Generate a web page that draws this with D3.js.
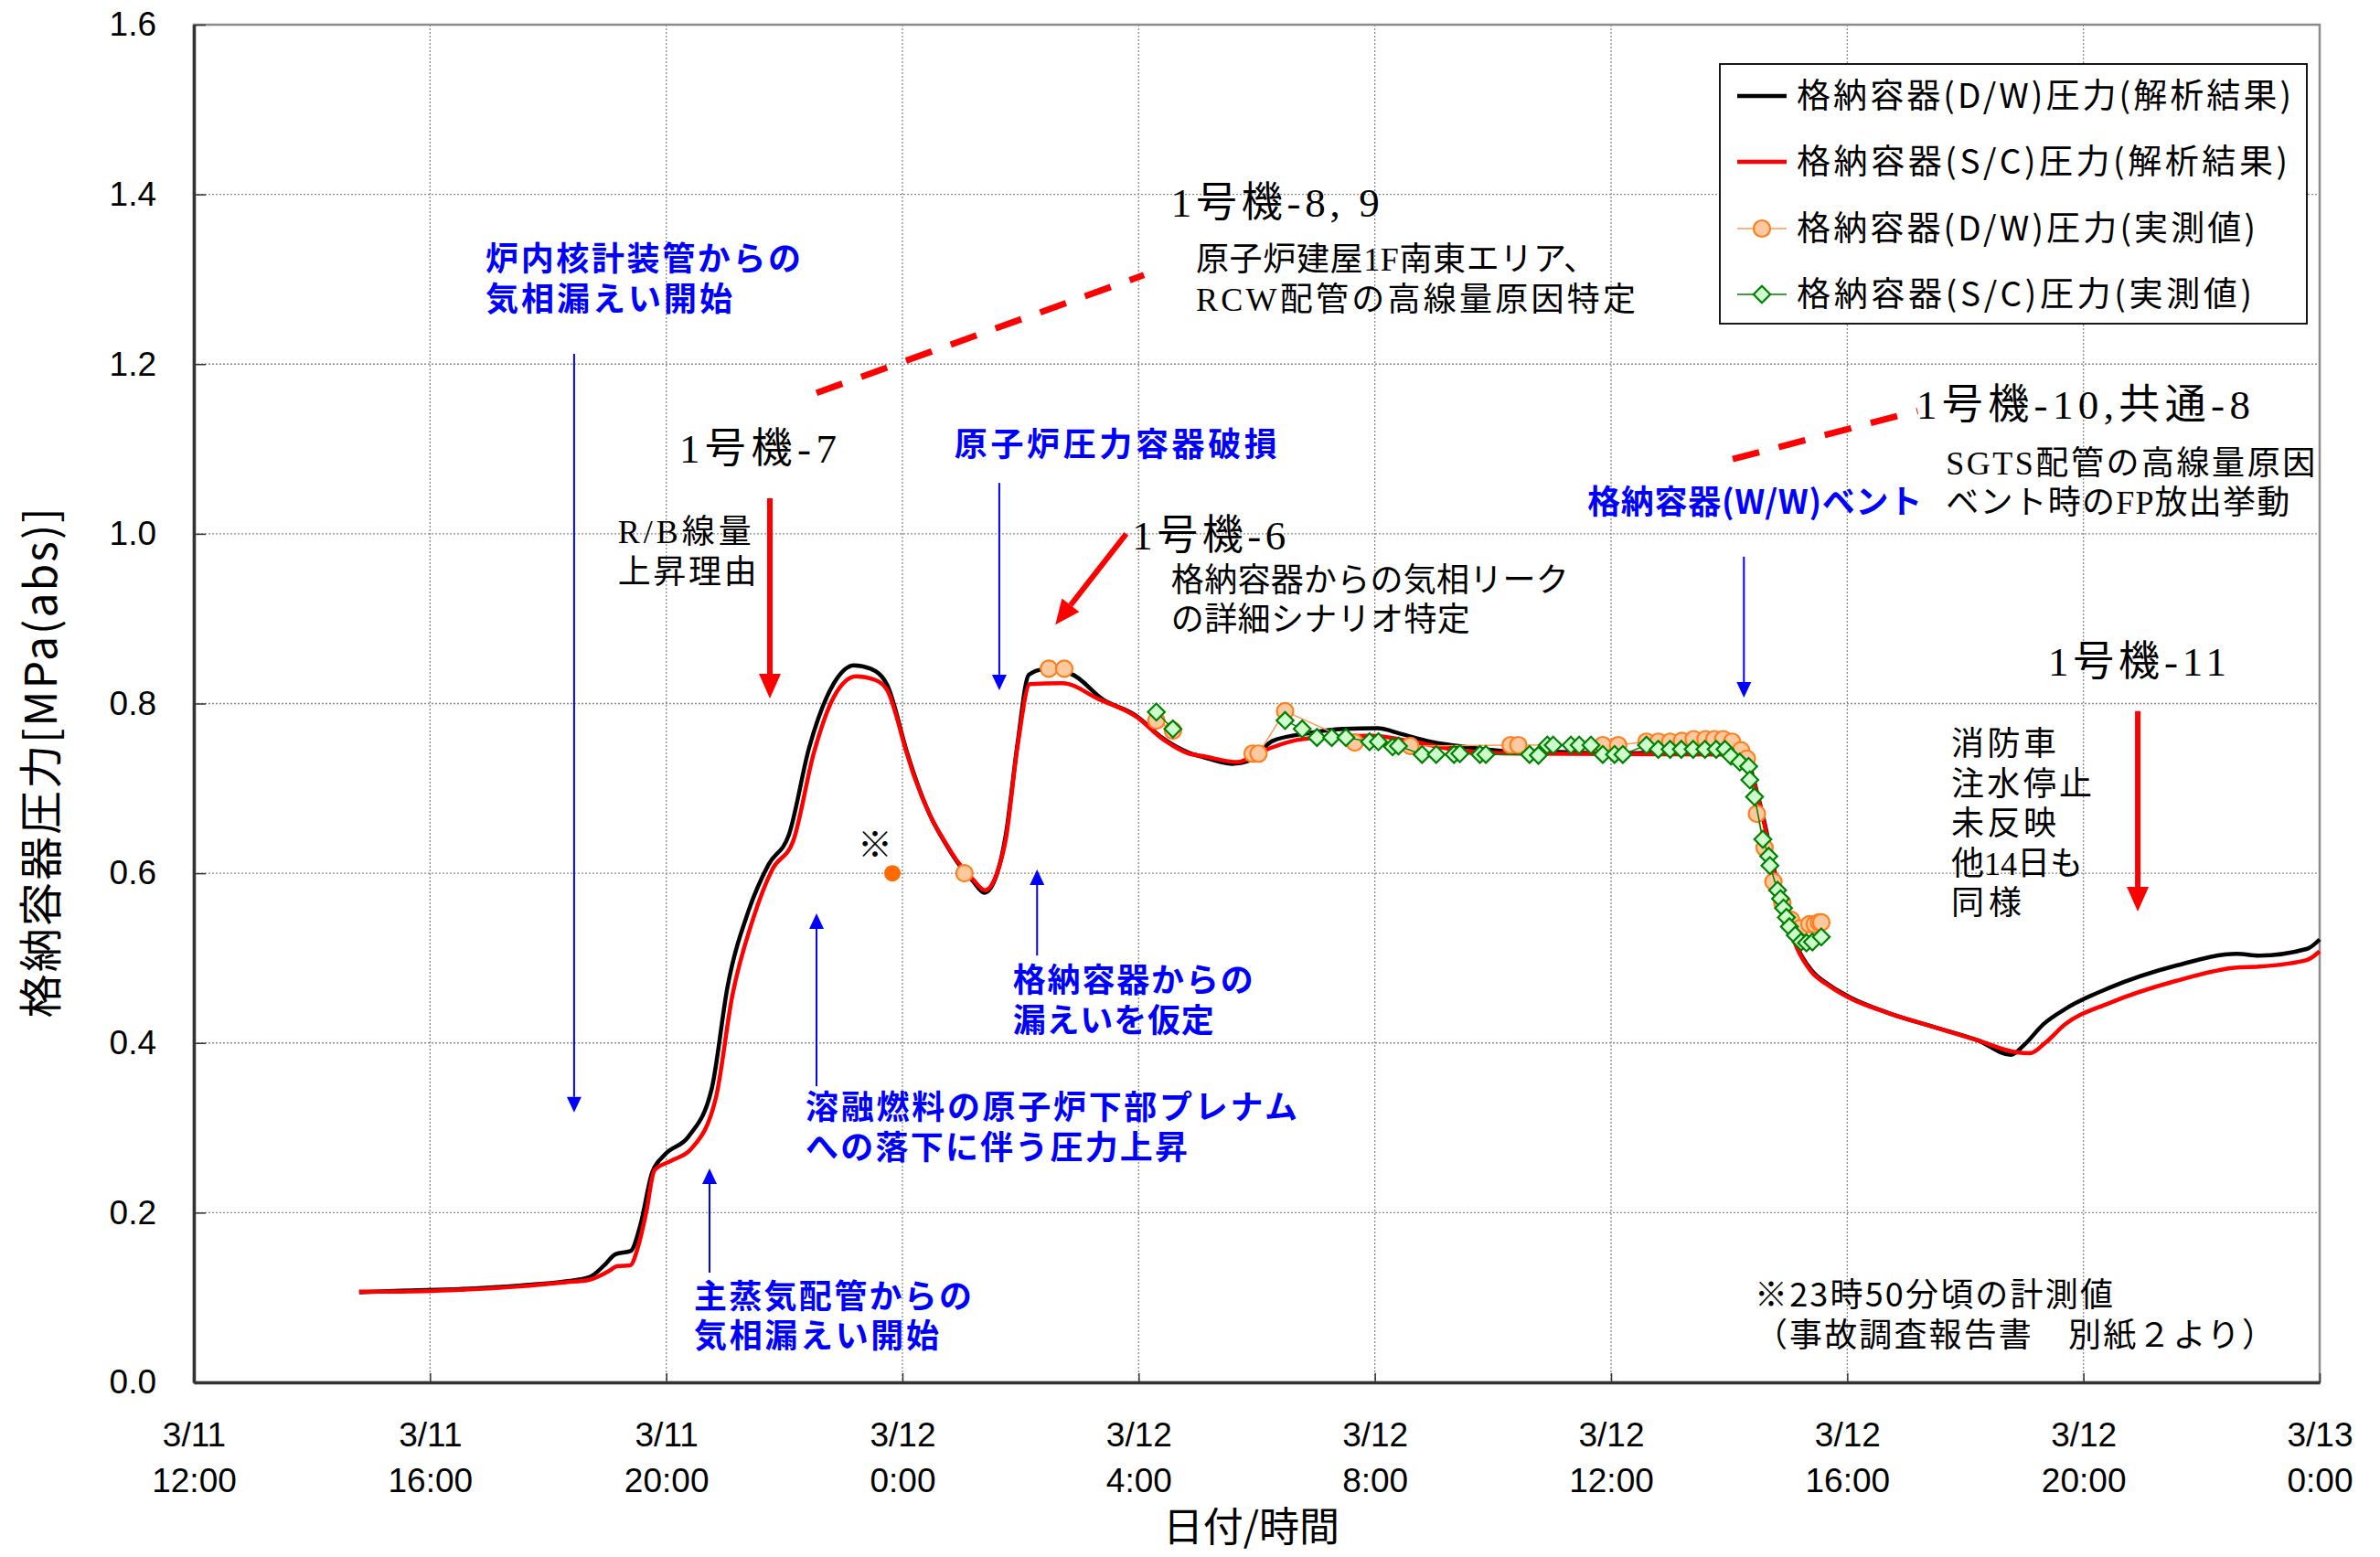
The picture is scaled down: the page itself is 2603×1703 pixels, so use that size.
<!DOCTYPE html>
<html>
<head>
<meta charset="utf-8">
<script src="https://cdn.jsdelivr.net/npm/d3@7"></script>
<style>
  html, body { margin: 0; padding: 0; background: #fff; }
  svg { display: block; }
</style>
</head>
<body>
<svg id="chart" width="2603" height="1703"></svg>
<script>
// --- DATA (time = hours after 3/11 12:00, pressure in MPa abs) ---
const xTicks = [0, 4, 8, 12, 16, 20, 24, 28, 32, 36];
const dateLabels = ["3/11", "3/11", "3/11", "3/12", "3/12", "3/12", "3/12", "3/12", "3/12", "3/13"];
const timeLabels = ["12:00", "16:00", "20:00", "0:00", "4:00", "8:00", "12:00", "16:00", "20:00", "0:00"];
const yTicks = [0, 0.2, 0.4, 0.6, 0.8, 1.0, 1.2, 1.4, 1.6];

const seriesNames = [
  "格納容器(D/W)圧力(解析結果)",
  "格納容器(S/C)圧力(解析結果)",
  "格納容器(D/W)圧力(実測値)",
  "格納容器(S/C)圧力(実測値)"
];

// D/W pressure, analysis
const dwCalcTime = [2.80, 3.50, 4.50, 5.50, 6.30, 6.70, 6.95, 7.14, 7.40, 7.56, 7.76, 7.97, 8.38, 8.77, 9.04, 9.39, 9.73, 10.08, 10.42, 10.84, 11.18, 11.46, 11.74, 12.08, 12.20, 12.49, 12.72, 12.91, 13.19, 13.39, 13.60, 13.75, 13.95, 14.14, 14.37, 14.85, 15.39, 15.95, 16.43, 16.85, 17.09, 17.58, 17.88, 18.27, 18.87, 19.46, 20.05, 20.45, 20.94, 21.63, 22.22, 23.12, 24.00, 25.39, 26.08, 26.28, 26.47, 26.62, 26.77, 26.96, 27.16, 27.38, 27.70, 28.10, 28.71, 29.46, 30.21, 30.77, 31.00, 31.32, 31.69, 32.44, 33.56, 34.60, 34.97, 35.79, 36.00];
const dwCalcValue = [0.106, 0.108, 0.110, 0.114, 0.119, 0.124, 0.138, 0.151, 0.155, 0.185, 0.247, 0.268, 0.290, 0.346, 0.467, 0.555, 0.610, 0.646, 0.748, 0.824, 0.845, 0.841, 0.822, 0.742, 0.716, 0.665, 0.636, 0.615, 0.591, 0.577, 0.599, 0.645, 0.753, 0.834, 0.840, 0.835, 0.805, 0.786, 0.758, 0.742, 0.737, 0.729, 0.733, 0.756, 0.765, 0.770, 0.771, 0.764, 0.755, 0.748, 0.744, 0.743, 0.741, 0.743, 0.743, 0.737, 0.696, 0.653, 0.602, 0.552, 0.512, 0.487, 0.468, 0.452, 0.435, 0.419, 0.403, 0.386, 0.398, 0.422, 0.440, 0.465, 0.491, 0.505, 0.503, 0.511, 0.522];

// S/C pressure, analysis
const scCalcTime = [2.80, 3.50, 4.50, 5.50, 6.30, 6.70, 7.00, 7.18, 7.39, 7.52, 7.66, 7.80, 8.08, 8.42, 8.84, 9.12, 9.46, 9.80, 10.15, 10.50, 10.84, 11.22, 11.53, 11.74, 12.08, 12.20, 12.49, 12.72, 12.91, 13.19, 13.40, 13.60, 13.75, 13.95, 14.16, 14.71, 15.33, 15.95, 16.43, 16.85, 17.09, 17.68, 18.03, 18.68, 19.27, 19.96, 20.64, 21.43, 22.42, 25.88, 26.18, 26.30, 26.47, 26.62, 26.77, 26.96, 27.16, 27.38, 27.70, 28.10, 28.71, 29.46, 30.21, 30.87, 31.10, 31.35, 31.69, 32.44, 33.56, 34.60, 34.97, 35.79, 36.00];
const scCalcValue = [0.107, 0.107, 0.109, 0.113, 0.118, 0.121, 0.130, 0.137, 0.138, 0.159, 0.200, 0.250, 0.261, 0.275, 0.335, 0.456, 0.544, 0.605, 0.638, 0.742, 0.808, 0.832, 0.828, 0.816, 0.740, 0.714, 0.665, 0.637, 0.616, 0.593, 0.580, 0.600, 0.640, 0.750, 0.823, 0.824, 0.805, 0.785, 0.757, 0.741, 0.738, 0.731, 0.742, 0.757, 0.761, 0.762, 0.755, 0.745, 0.741, 0.740, 0.738, 0.730, 0.694, 0.650, 0.600, 0.548, 0.510, 0.485, 0.467, 0.451, 0.435, 0.419, 0.403, 0.389, 0.388, 0.400, 0.422, 0.447, 0.473, 0.489, 0.490, 0.498, 0.508];

// D/W pressure, measured (null = break in the connecting line)
const dwMeasTime = [13.05, null, 14.48, 14.74, null, 16.30, 16.58, null, 17.93, 18.03, 18.48, 19.66, 20.60, 22.30, 22.43, 23.86, 24.12, 24.60, 24.80, 25.00, 25.20, 25.40, 25.60, 25.75, 25.90, 26.05, 26.20, 26.30, 26.47, 26.60, 26.75, 26.90, 27.05, 27.20, 27.36, 27.45, 27.52, 27.56];
const dwMeasValue = [0.600, null, 0.841, 0.841, null, 0.780, 0.768, null, 0.741, 0.741, 0.791, 0.754, 0.750, 0.751, 0.751, 0.751, 0.751, 0.755, 0.755, 0.755, 0.756, 0.758, 0.758, 0.758, 0.758, 0.755, 0.745, 0.735, 0.670, 0.630, 0.590, 0.565, 0.545, 0.535, 0.540, 0.540, 0.542, 0.542];

// S/C pressure, measured
const scMeasTime = [16.30, 16.58, null, 18.48, 18.77, 19.02, 19.27, 19.51, 19.91, 20.06, 20.30, 20.40, 20.80, 21.04, 21.34, 21.44, 21.78, 21.88, 22.62, 22.77, 22.92, 23.02, 23.32, 23.46, 23.66, 23.86, 24.06, 24.20, 24.60, 24.80, 25.00, 25.19, 25.39, 25.59, 25.78, 25.93, 26.03, 26.18, 26.33, 26.35, 26.43, 26.57, 26.67, 26.69, 26.82, 26.87, 26.92, 26.97, 27.02, 27.12, 27.22, 27.31, 27.41, 27.56];
const scMeasValue = [0.790, 0.770, null, 0.780, 0.770, 0.760, 0.760, 0.760, 0.755, 0.755, 0.749, 0.750, 0.740, 0.740, 0.740, 0.741, 0.740, 0.740, 0.740, 0.739, 0.751, 0.751, 0.751, 0.751, 0.751, 0.740, 0.740, 0.740, 0.751, 0.746, 0.746, 0.746, 0.746, 0.746, 0.746, 0.746, 0.738, 0.731, 0.726, 0.710, 0.690, 0.640, 0.620, 0.609, 0.580, 0.570, 0.559, 0.548, 0.537, 0.527, 0.519, 0.518, 0.519, 0.525];

// single value measured at 23:50 (marked ※)
const noteTime = [11.83];
const noteValue = [0.600];

// --- CHART SETUP ---
const svg = d3.select("#chart");
const margin = { top: 27, right: 66, bottom: 191, left: 212 };
const width = +svg.attr("width") - margin.left - margin.right;
const height = +svg.attr("height") - margin.top - margin.bottom;

const chart = svg.append("g")
  .attr("transform", `translate(${margin.left}, ${margin.top})`);

const x = d3.scaleLinear().domain([0, 36]).range([0, width]);
const y = d3.scaleLinear().domain([0, 1.6]).range([height, 0]);

const sans = "'Liberation Sans', Arial, 'Noto Sans CJK JP', sans-serif";
const gothic = "'Noto Sans CJK JP', 'Liberation Sans', sans-serif";
const serif = "'Liberation Serif', 'Noto Sans CJK JP', serif";

// --- GRID ---
chart.append("g")
  .selectAll("line")
  .data(yTicks.slice(1, -1))
  .join("line")
  .attr("x1", 0).attr("x2", width)
  .attr("y1", d => y(d)).attr("y2", d => y(d))
  .attr("stroke", "#8a8a8a").attr("stroke-width", 1.3)
  .attr("stroke-dasharray", "2,2");

chart.append("g")
  .selectAll("line")
  .data(xTicks.slice(1, -1))
  .join("line")
  .attr("x1", d => x(d)).attr("x2", d => x(d))
  .attr("y1", 0).attr("y2", height)
  .attr("stroke", "#8a8a8a").attr("stroke-width", 1.3)
  .attr("stroke-dasharray", "2,2");

// plot border
chart.append("rect")
  .attr("width", width).attr("height", height)
  .attr("fill", "none").attr("stroke", "#8c8c8c").attr("stroke-width", 2.5);

// --- AXES ---
const yAxis = chart.append("g")
  .call(d3.axisLeft(y).tickValues(yTicks).tickFormat(d3.format(".1f"))
    .tickSizeInner(-13).tickSizeOuter(0).tickPadding(41));
yAxis.select(".domain").attr("stroke", "#333").attr("stroke-width", 3.5);
yAxis.selectAll(".tick line").attr("stroke", "#333").attr("stroke-width", 1.5);
yAxis.selectAll("text").attr("font-family", sans).attr("font-size", 37).attr("fill", "#000");

const xAxis = chart.append("g")
  .attr("transform", `translate(0, ${height})`)
  .call(d3.axisBottom(x).tickValues(xTicks).tickFormat((d, i) => dateLabels[i])
    .tickSizeInner(-10).tickSizeOuter(0));
xAxis.select(".domain").attr("stroke", "#333").attr("stroke-width", 3.5);
xAxis.selectAll(".tick line").attr("stroke", "#333").attr("stroke-width", 1.5);
xAxis.selectAll(".tick text")
  .attr("font-family", sans).attr("font-size", 37).attr("fill", "#000")
  .each(function (d, i) {
    const t = d3.select(this).text(null).attr("y", null).attr("dy", null);
    t.append("tspan").attr("x", 0).attr("y", 70).text(dateLabels[i]);
    t.append("tspan").attr("x", 0).attr("y", 120).text(timeLabels[i]);
  });

// axis titles
svg.append("text")
  .attr("transform", `translate(62, ${margin.top + y(0.8) + 65}) rotate(-90)`)
  .attr("text-anchor", "middle")
  .attr("font-family", gothic).attr("font-size", 48)
  .attr("textLength", 558)
  .text("格納容器圧力[MPa(abs)]");

svg.append("text")
  .attr("x", margin.left + x(18) - 6).attr("y", 1686)
  .attr("text-anchor", "middle")
  .attr("font-family", gothic).attr("font-size", 44)
  .text("日付/時間");

// --- LINES ---
const zip = (ts, vs) => ts.map((t, i) => ({ t, v: vs[i] }));

const smooth = d3.line()
  .x(d => x(d.t)).y(d => y(d.v))
  .curve(d3.curveMonotoneX);

const straight = d3.line()
  .defined(d => d.t !== null && d.v !== null)
  .x(d => x(d.t)).y(d => y(d.v));

chart.append("path")
  .datum(zip(dwCalcTime, dwCalcValue))
  .attr("d", smooth)
  .attr("fill", "none").attr("stroke", "#000").attr("stroke-width", 4.5)
  .attr("stroke-linejoin", "round");

chart.append("path")
  .datum(zip(scCalcTime, scCalcValue))
  .attr("d", smooth)
  .attr("fill", "none").attr("stroke", "#ff0000").attr("stroke-width", 4.5)
  .attr("stroke-linejoin", "round");

// measured D/W
const dwMeas = zip(dwMeasTime, dwMeasValue);
chart.append("path")
  .datum(dwMeas)
  .attr("d", straight)
  .attr("fill", "none").attr("stroke", "#ff9a50").attr("stroke-width", 1.5);
chart.append("g")
  .selectAll("circle")
  .data(dwMeas.filter(d => d.t !== null))
  .join("circle")
  .attr("cx", d => x(d.t)).attr("cy", d => y(d.v)).attr("r", 9)
  .attr("fill", "#ffc9a0").attr("stroke", "#ff7f1e").attr("stroke-width", 2.2);

// measured S/C
const scMeas = zip(scMeasTime, scMeasValue);
chart.append("path")
  .datum(scMeas)
  .attr("d", straight)
  .attr("fill", "none").attr("stroke", "#008000").attr("stroke-width", 1.5);
const diamond = d3.symbol().type(d3.symbolSquare).size(170);
chart.append("g")
  .selectAll("path")
  .data(scMeas.filter(d => d.t !== null))
  .join("path")
  .attr("d", diamond)
  .attr("transform", d => `translate(${x(d.t)}, ${y(d.v)}) rotate(45)`)
  .attr("fill", "#ccffcc").attr("stroke", "#008000").attr("stroke-width", 2.2);

// the ※ value
chart.append("g")
  .selectAll("circle")
  .data(zip(noteTime, noteValue))
  .join("circle")
  .attr("cx", d => x(d.t)).attr("cy", d => y(d.v)).attr("r", 9)
  .attr("fill", "#ff6a00");

// --- ANNOTATIONS (anchors in hours / MPa) ---
const texts = [
  { t: 4.94, p: 1.310, font: gothic, size: 36, weight: "bold", color: "#0000ff", lines: ["炉内核計装管からの", "気相漏えい開始"], widths: [345, 270] },
  { t: 8.22, p: 1.084, font: serif, size: 45, color: "#000", lines: ["1号機-7"], widths: [172] },
  { t: 7.18, p: 0.989, font: serif, size: 36, color: "#000", lines: ["R/B線量", "上昇理由"], widths: [146, 152] },
  { t: 16.55, p: 1.374, font: serif, size: 45, color: "#000", lines: ["1号機-8, 9"], widths: [228] },
  { t: 16.97, p: 1.310, font: serif, size: 36, color: "#000", lines: ["原子炉建屋1F南東エリア、", "RCW配管の高線量原因特定"], widths: [438, 481] },
  { t: 12.88, p: 1.0915, font: gothic, size: 36, weight: "bold", color: "#0000ff", lines: ["原子炉圧力容器破損"], widths: [353] },
  { t: 15.89, p: 0.9816, font: serif, size: 45, color: "#000", lines: ["1号機-6"], widths: [168] },
  { t: 16.55, p: 0.932, font: serif, size: 36, color: "#000", lines: ["格納容器からの気相リーク", "の詳細シナリオ特定"], widths: [435, 327] },
  { t: 13.87, p: 0.460, font: gothic, size: 36, weight: "bold", color: "#0000ff", lines: ["格納容器からの", "漏えいを仮定"], widths: [263, 220] },
  { t: 10.36, p: 0.310, font: gothic, size: 36, weight: "bold", color: "#0000ff", lines: ["溶融燃料の原子炉下部プレナム", "への落下に伴う圧力上昇"], widths: [538, 418] },
  { t: 8.47, p: 0.0873, font: gothic, size: 36, weight: "bold", color: "#0000ff", lines: ["主蒸気配管からの", "気相漏えい開始"], widths: [304, 268] },
  { t: 11.24, p: 0.620, font: gothic, size: 38, color: "#000", lines: ["※"], widths: [null] },
  { t: 23.60, p: 1.0236, font: gothic, size: 36, weight: "bold", color: "#0000ff", lines: ["格納容器(W/W)ベント"], widths: [366] },
  { t: 29.17, p: 1.1357, font: serif, size: 45, color: "#000", lines: ["1号機-10,共通-8"], widths: [365] },
  { t: 29.67, p: 1.070, font: serif, size: 36, color: "#000", lines: ["SGTS配管の高線量原因", "ベント時のFP放出挙動"], widths: [404, 376] },
  { t: 31.40, p: 0.833, font: serif, size: 45, color: "#000", lines: ["1号機-11"], widths: [195] },
  { t: 29.76, p: 0.739, font: serif, size: 36, color: "#000", lines: ["消防車", "注水停止", "未反映", "他14日も", "同様"], widths: [115, 154, 115, 144, 77] },
  { t: 26.43, p: 0.0894, font: gothic, size: 36, color: "#000", lines: ["※23時50分頃の計測値", "（事故調査報告書　別紙２より）"], widths: [392, 569] }
];

// one text element per note, one tspan per line
const lineGap = 43.5;
texts.forEach(a => {
  const el = chart.append("text")
    .attr("font-family", a.font).attr("font-size", a.size)
    .attr("font-weight", a.weight || "normal")
    .attr("fill", a.color);
  a.lines.forEach((s, i) => {
    const ts = el.append("tspan")
      .attr("x", x(a.t)).attr("y", y(a.p) + i * lineGap)
      .text(s);
    if (a.widths[i]) ts.attr("textLength", a.widths[i]).attr("lengthAdjust", "spacing");
  });
});

// arrows: from -> to (tip), in hours / MPa
const arrows = [
  { from: [6.44, 1.212], to: [6.44, 0.318], color: "#0000ff", w: 2, head: 17, half: 8 },
  { from: [13.64, 1.060], to: [13.64, 0.8157], color: "#0000ff", w: 2, head: 17, half: 8 },
  { from: [14.28, 0.503], to: [14.28, 0.6045], color: "#0000ff", w: 2, head: 17, half: 8 },
  { from: [10.545, 0.349], to: [10.545, 0.5527], color: "#0000ff", w: 2, head: 17, half: 8 },
  { from: [8.733, 0.1293], to: [8.733, 0.2521], color: "#0000ff", w: 2, head: 17, half: 8 },
  { from: [26.25, 0.973], to: [26.25, 0.807], color: "#0000ff", w: 2, head: 17, half: 8 },
  { from: [9.755, 1.042], to: [9.755, 0.806], color: "#ff0000", w: 6, head: 27, half: 12 },
  { from: [15.79, 1.000], to: [14.59, 0.893], color: "#ff0000", w: 6, head: 27, half: 12 },
  { from: [32.92, 0.791], to: [32.92, 0.555], color: "#ff0000", w: 6, head: 27, half: 12 }
];

arrows.forEach(a => {
  const x1 = x(a.from[0]), y1 = y(a.from[1]);
  const x2 = x(a.to[0]), y2 = y(a.to[1]);
  const ang = Math.atan2(y2 - y1, x2 - x1);
  const bx = x2 - a.head * Math.cos(ang), by = y2 - a.head * Math.sin(ang);
  const px = -Math.sin(ang) * a.half, py = Math.cos(ang) * a.half;
  chart.append("line")
    .attr("x1", x1).attr("y1", y1).attr("x2", bx).attr("y2", by)
    .attr("stroke", a.color).attr("stroke-width", a.w);
  chart.append("polygon")
    .attr("points", `${x2},${y2} ${bx + px},${by + py} ${bx - px},${by - py}`)
    .attr("fill", a.color);
});

// dashed red leader lines
const leaders = [
  { from: [10.545, 1.166], to: [16.09, 1.305] },
  { from: [26.06, 1.088], to: [29.19, 1.145] }
];
chart.append("g")
  .selectAll("line")
  .data(leaders)
  .join("line")
  .attr("x1", d => x(d.from[0])).attr("y1", d => y(d.from[1]))
  .attr("x2", d => x(d.to[0])).attr("y2", d => y(d.to[1]))
  .attr("stroke", "#ff0000").attr("stroke-width", 7)
  .attr("stroke-dasharray", "30,22");

// --- LEGEND ---
const legend = svg.append("g").attr("transform", "translate(1881, 70)");
legend.append("rect")
  .attr("width", 642).attr("height", 284)
  .attr("fill", "#fff").attr("stroke", "#000").attr("stroke-width", 1.8);

const rowY = [35, 107, 180, 252];
const legendWidths = [541, 537, 502, 498];
seriesNames.forEach((name, i) => {
  const row = legend.append("g").attr("transform", `translate(0, ${rowY[i]})`);
  if (i === 0) row.append("line").attr("x1", 19).attr("x2", 73).attr("stroke", "#000").attr("stroke-width", 4.5);
  if (i === 1) row.append("line").attr("x1", 19).attr("x2", 73).attr("stroke", "#ff0000").attr("stroke-width", 4.5);
  if (i === 2) {
    row.append("line").attr("x1", 19).attr("x2", 73).attr("stroke", "#ff9a50").attr("stroke-width", 1.5);
    row.append("circle").attr("cx", 46).attr("r", 9)
      .attr("fill", "#ffc9a0").attr("stroke", "#ff7f1e").attr("stroke-width", 2.2);
  }
  if (i === 3) {
    row.append("line").attr("x1", 19).attr("x2", 73).attr("stroke", "#008000").attr("stroke-width", 1.5);
    row.append("path").attr("d", diamond).attr("transform", "translate(46, 0) rotate(45)")
      .attr("fill", "#ccffcc").attr("stroke", "#008000").attr("stroke-width", 2.2);
  }
  row.append("text")
    .attr("x", 84).attr("y", 13)
    .attr("font-family", gothic).attr("font-size", 37)
    .attr("textLength", legendWidths[i]).attr("lengthAdjust", "spacing")
    .text(name);
});
</script>
</body>
</html>
